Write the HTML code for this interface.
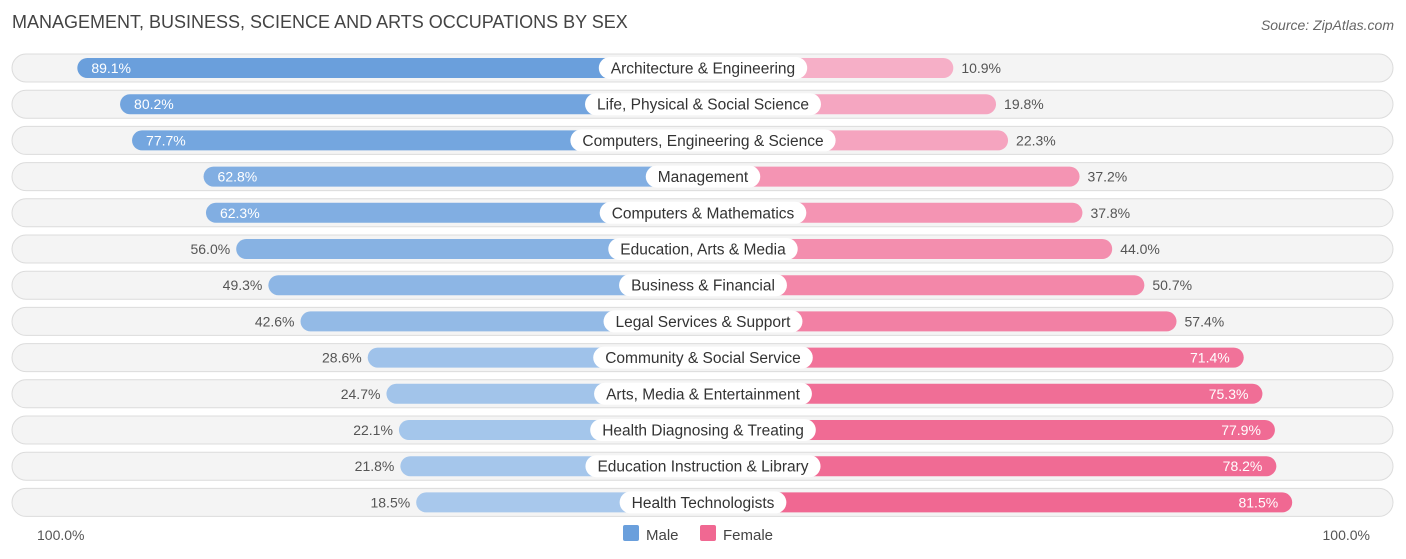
<!DOCTYPE html>
<html><head><meta charset="utf-8"><style>
body{margin:0;background:#fff;font-family:"Liberation Sans",sans-serif}
svg{display:block}
</style></head><body>
<svg id="c" width="1406" height="559">
<text x="12" y="28" font-size="18" fill="#444">MANAGEMENT, BUSINESS, SCIENCE AND ARTS OCCUPATIONS BY SEX</text>
<text x="1394" y="30" font-size="14" fill="#666" font-style="italic" text-anchor="end">Source: ZipAtlas.com</text>
<text x="37" y="540" font-size="14" fill="#555">100.0%</text>
<text x="1370" y="540" font-size="14" fill="#555" text-anchor="end">100.0%</text>
<g>
<rect x="623" y="525" width="16" height="16" rx="2" fill="#6a9fdc"/>
<text x="646" y="540" font-size="15" fill="#444">Male</text>
<rect x="700" y="525" width="16" height="16" rx="2" fill="#f06892"/>
<text x="723" y="540" font-size="15" fill="#444">Female</text>
</g>
</svg>
<script>
const categories=["Architecture & Engineering","Life, Physical & Social Science","Computers, Engineering & Science","Management","Computers & Mathematics","Education, Arts & Media","Business & Financial","Legal Services & Support","Community & Social Service","Arts, Media & Entertainment","Health Diagnosing & Treating","Education Instruction & Library","Health Technologists"];
const maleValues=[89.1,80.2,77.7,62.8,62.3,56.0,49.3,42.6,28.6,24.7,22.1,21.8,18.5];
const femaleValues=[10.9,19.8,22.3,37.2,37.8,44.0,50.7,57.4,71.4,75.3,77.9,78.2,81.5];
const svg=document.getElementById('c');const NS='http://www.w3.org/2000/svg';
const cx=703,base=198,k=4.8;
function len(v){return base+k*v;}
function rowY(i){return 68+i*36.2;}
function mix(a,b,t){return 'rgb('+a.map((x,j)=>Math.round(x+(b[j]-x)*t)).join(',')+')';}
function mk(t,at){const e=document.createElementNS(NS,t);for(const a in at)e.setAttribute(a,at[a]);svg.appendChild(e);return e;}
categories.forEach((c,i)=>{
 const y=rowY(i);
 const bg=mk('rect',{x:12,y:y-14,width:1381,height:28,rx:14,fill:'#f4f4f4',stroke:'#dcdcdc'});
 
 
 const mv=maleValues[i],fv=femaleValues[i];
 const ml=len(mv),fl=len(fv);
 const mb=mk('rect',{x:cx-ml,y:y-10,width:ml,height:20,rx:10,fill:mix([168,200,236],[106,159,220],Math.min(1,Math.max(0,(mv-18)/71)))});
 
 
 const fb=mk('rect',{x:cx,y:y-10,width:fl,height:20,rx:10,fill:mix([246,176,200],[240,104,146],Math.min(1,Math.max(0,(fv-10)/71)))});
 
 
 const mIn=mv>60,fIn=fv>60;
 const mt=mk('text',{x:mIn?cx-ml+14:cx-ml-6,y:y+5,'font-size':14,fill:mIn?'#fff':'#555','text-anchor':mIn?'start':'end'});
 mt.textContent=mv.toFixed(1)+'%';
 
 
 const ft=mk('text',{x:fIn?cx+fl-14:cx+fl+8,y:y+5,'font-size':14,fill:fIn?'#fff':'#555','text-anchor':fIn?'end':'start'});
 ft.textContent=fv.toFixed(1)+'%';
 
 
 const lt=mk('text',{x:cx,y:y+5.5,'font-size':15.5,fill:'#333','text-anchor':'middle'});
 lt.textContent=c;
 const w=lt.getComputedTextLength()+24;
 const pill=document.createElementNS(NS,'rect');
 pill.setAttribute('x',cx-w/2);pill.setAttribute('y',y-11);pill.setAttribute('width',w);pill.setAttribute('height',22);pill.setAttribute('rx',11);pill.setAttribute('fill','#fff');
 
 
 svg.insertBefore(pill,lt);
 
 
});
</script>
</body></html>
